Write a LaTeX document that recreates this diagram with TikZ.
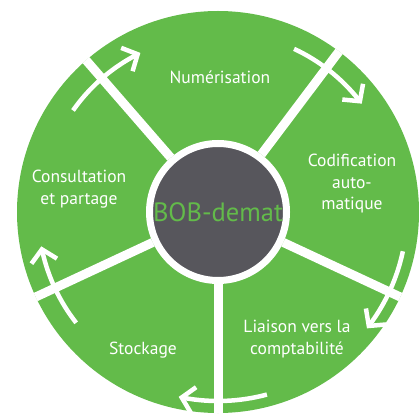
\documentclass[tikz,border=0pt]{standalone}
\usepackage{fontspec}
\setmainfont{PT Sans}
\usetikzlibrary{arrows.meta,bending}
\definecolor{leaf}{RGB}{99,187,74}
\definecolor{slate}{RGB}{87,86,92}

\begin{document}
\begin{tikzpicture}[x=1pt, y=1pt,
    wheel/.style = {circle, fill=leaf, minimum size=402pt, inner sep=0pt},
    hub/.style = {circle, fill=slate, draw=white, line width=7pt, minimum size=137pt, inner sep=0pt,
                  text=leaf, font=\fontsize{26.5}{30}\selectfont},
    txt/.style = {text=white, align=center, font=\fontsize{17.5}{21.5}\selectfont},
    spoke/.style = {draw=white, line width=9pt},
    cyc/.style = {draw=white, line width=4.5pt, -{Straight Barb[length=12pt,width=26pt,flex]}}]
      \useasboundingbox (0,0) rectangle (418,-419);
      \coordinate (c) at (218,-212);

      \node[wheel](w) at (c) {};
      \node[hub](h) at (c) {BOB-demat};

      \path
      (h.131) edge[spoke] (w.131)
      (h.53) edge[spoke] (w.53)
      (h.-25) edge[spoke] (w.-25)
      (h.-90) edge[spoke] (w.-90)
      (h.-155) edge[spoke] (w.-155)
      ;

      \node[txt](num) at (220,-77) {Numérisation};
      \node[txt](cod) at (352,-184) {Codification\\auto-\\matique};
      \node[txt](lia) at (297,-339) {Liaison vers la\\comptabilité};
      \node[txt](sto) at (143,-350) {Stockage};
      \node[txt](con) at (79,-189) {Consultation\\et partage};

      \draw[cyc] (c) ++(145:177) arc[start angle=145, end angle=116, radius=177];
      \draw[cyc] (c) ++(65:180) arc[start angle=65, end angle=37, radius=180];
      \draw[cyc] (c) ++(-12:189) arc[start angle=-12, end angle=-38, radius=189];
      \draw[cyc] (c) ++(-75:189) arc[start angle=-75, end angle=-102, radius=189];
      \draw[cyc] (c) ++(218:180) arc[start angle=218, end angle=191, radius=180];
    \end{tikzpicture}
\end{document}
